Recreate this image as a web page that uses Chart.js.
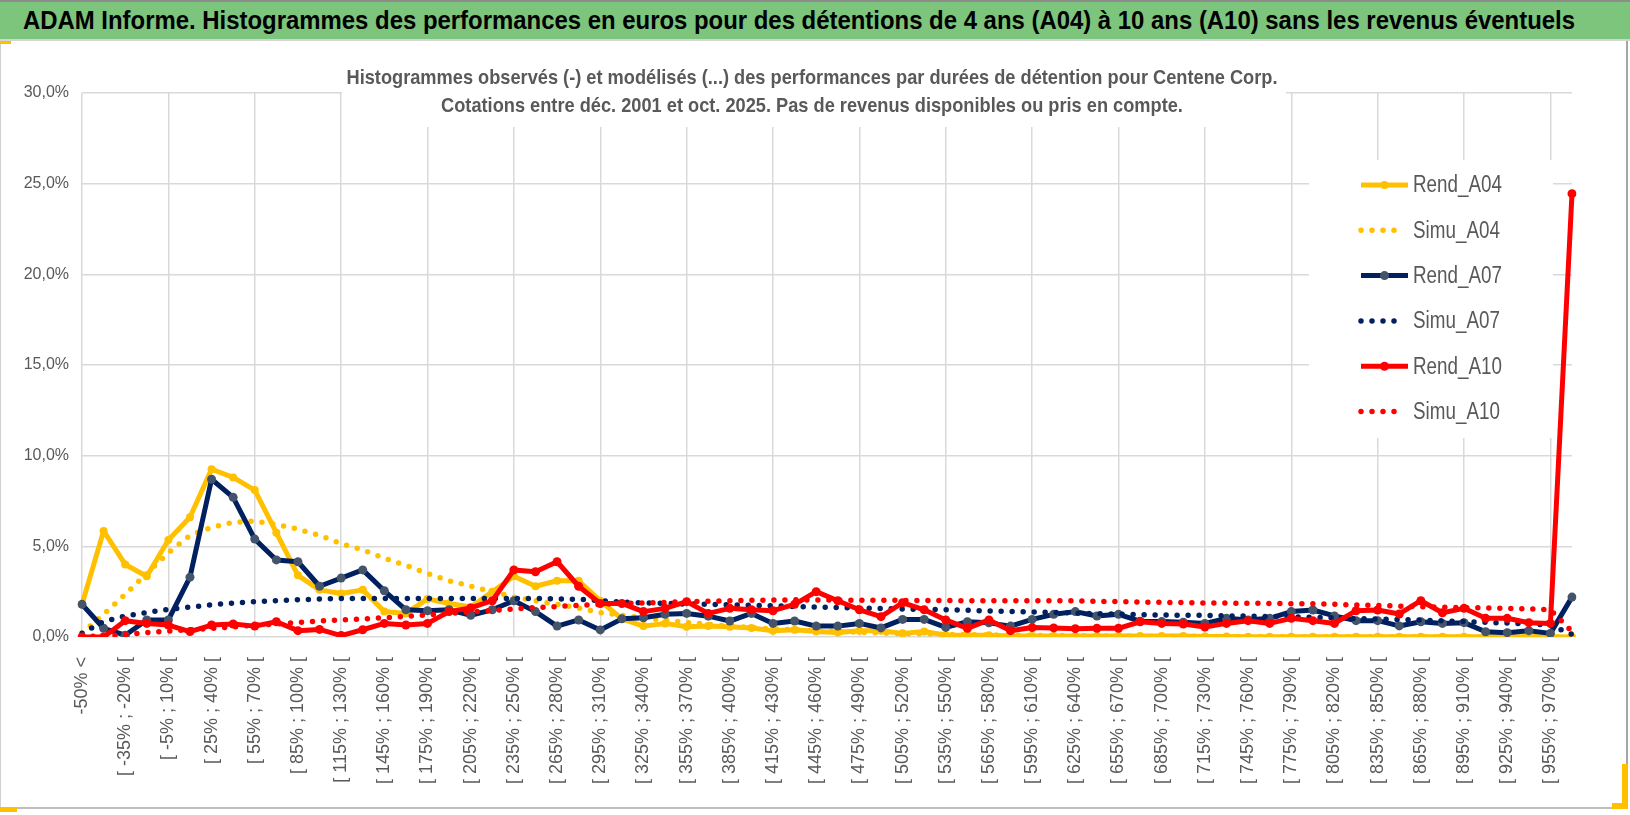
<!DOCTYPE html>
<html lang="fr">
<head>
<meta charset="utf-8">
<title>ADAM Informe - Centene Corp.</title>
<script src="https://cdn.jsdelivr.net/npm/chart.js@4.4.1/dist/chart.umd.min.js"></script>
<style>
  html, body { margin: 0; padding: 0; background: #fff; }
  body { width: 1630px; height: 815px; position: relative; overflow: hidden; }
  #chart { position: absolute; left: 0; top: 0; }
  #banner { position: absolute; left: 0; top: 0; width: 1630px; height: 41px; box-sizing: border-box;
            background: #7dc57d; border-top: 2px solid #8c8c8c; border-bottom: 2px solid #d4d4d4; z-index: 2; }
  #banner span { position: absolute; left: 23px; top: 3px; white-space: nowrap; color: #000;
                 font: bold 26px "Liberation Sans", Arial, sans-serif; transform-origin: 0 50%; }
  .edge { position: absolute; z-index: 3; }
</style>
</head>
<body>
<div id="banner"><span id="bannerText">ADAM Informe. Histogrammes des performances en euros pour des détentions de 4 ans (A04) à 10 ans (A10) sans les revenus éventuels</span></div>
<div class="edge" style="left:0;top:41px;width:1px;height:767px;background:#d0d0d0"></div>
<div class="edge" style="left:1626px;top:41px;width:2px;height:768px;background:#a6a6a6"></div>
<div class="edge" style="left:0;top:807px;width:1628px;height:2px;background:#bfbfbf"></div>
<div class="edge" style="left:0;top:41px;width:11px;height:3px;background:#FFC000"></div>
<div class="edge" style="left:0;top:807px;width:17px;height:5px;background:#FFC000"></div>
<div class="edge" style="left:1622px;top:764px;width:6px;height:45px;background:#FFC000"></div>
<div class="edge" style="left:1612px;top:803px;width:16px;height:6px;background:#FFC000"></div>
<canvas id="chart" width="1630" height="815"></canvas>
<script>
// classes de performance (15 points)
const categories = [
  '-50% <', '[ -50% ; -35% [', '[ -35% ; -20% [', '[ -20% ; -5% [', '[ -5% ; 10% [',
  '[ 10% ; 25% [', '[ 25% ; 40% [', '[ 40% ; 55% [', '[ 55% ; 70% [', '[ 70% ; 85% [',
  '[ 85% ; 100% [', '[ 100% ; 115% [', '[ 115% ; 130% [', '[ 130% ; 145% [', '[ 145% ; 160% [',
  '[ 160% ; 175% [', '[ 175% ; 190% [', '[ 190% ; 205% [', '[ 205% ; 220% [', '[ 220% ; 235% [',
  '[ 235% ; 250% [', '[ 250% ; 265% [', '[ 265% ; 280% [', '[ 280% ; 295% [', '[ 295% ; 310% [',
  '[ 310% ; 325% [', '[ 325% ; 340% [', '[ 340% ; 355% [', '[ 355% ; 370% [', '[ 370% ; 385% [',
  '[ 385% ; 400% [', '[ 400% ; 415% [', '[ 415% ; 430% [', '[ 430% ; 445% [', '[ 445% ; 460% [',
  '[ 460% ; 475% [', '[ 475% ; 490% [', '[ 490% ; 505% [', '[ 505% ; 520% [', '[ 520% ; 535% [',
  '[ 535% ; 550% [', '[ 550% ; 565% [', '[ 565% ; 580% [', '[ 580% ; 595% [', '[ 595% ; 610% [',
  '[ 610% ; 625% [', '[ 625% ; 640% [', '[ 640% ; 655% [', '[ 655% ; 670% [', '[ 670% ; 685% [',
  '[ 685% ; 700% [', '[ 700% ; 715% [', '[ 715% ; 730% [', '[ 730% ; 745% [', '[ 745% ; 760% [',
  '[ 760% ; 775% [', '[ 775% ; 790% [', '[ 790% ; 805% [', '[ 805% ; 820% [', '[ 820% ; 835% [',
  '[ 835% ; 850% [', '[ 850% ; 865% [', '[ 865% ; 880% [', '[ 880% ; 895% [', '[ 895% ; 910% [',
  '[ 910% ; 925% [', '[ 925% ; 940% [', '[ 940% ; 955% [', '[ 955% ; 970% [', '970% >='
]

// frequences en %
const rendA04 = [
  1.8, 5.85, 4.0, 3.35, 5.35, 6.6, 9.25, 8.8, 8.1, 5.75,
  3.4, 2.6, 2.4, 2.6, 1.4, 1.3, 2.1, 1.85, 1.65, 2.5,
  3.35, 2.8, 3.1, 3.1, 2.0, 1.0, 0.6, 0.75, 0.57, 0.6,
  0.57, 0.5, 0.35, 0.4, 0.3, 0.25, 0.35, 0.35, 0.2, 0.3,
  0.1, 0.1, 0.1, 0.05, 0.05, 0.05, 0.05, 0.05, 0.05, 0.05,
  0.05, 0.05, 0.03, 0.03, 0.02, 0.02, 0.02, 0.02, 0.02, 0.02,
  0.02, 0.02, 0.02, 0.02, 0.02, 0.02, 0.02, 0.02, 0.02, 0
]
const simuA04 = [
  0.2, 1.25, 2.35, 3.5, 4.65, 5.6, 6.05, 6.32, 6.4, 6.2,
  5.95, 5.6, 5.15, 4.8, 4.35, 3.95, 3.5, 3.1, 2.8, 2.5,
  2.2, 2.0, 1.8, 1.6, 1.35, 1.2, 1.05, 0.92, 0.8, 0.7,
  0.6, 0.52, 0.45, 0.39, 0.34, 0.3, 0.26, 0.22, 0.19, 0.17,
  0.15, 0.13, 0.11, 0.1, 0.09, 0.08, 0.07, 0.06, 0.05, 0.05,
  0.04, 0.04, 0.03, 0.03, 0.03, 0.02, 0.02, 0.02, 0.02, 0.02,
  0.01, 0.01, 0.01, 0.01, 0.01, 0.01, 0.01, 0.01, 0.01, 0
]
const rendA07 = [
  1.8, 0.48, 0.1, 0.94, 0.94, 3.3, 8.7, 7.7, 5.4, 4.25,
  4.15, 2.8, 3.25, 3.7, 2.55, 1.5, 1.45, 1.5, 1.2, 1.5,
  2.0, 1.4, 0.6, 0.94, 0.39, 1.0, 1.06, 1.25, 1.3, 1.15,
  0.88, 1.3, 0.75, 0.88, 0.6, 0.6, 0.75, 0.5, 0.97, 0.97,
  0.53, 0.84, 0.78, 0.6, 0.97, 1.25, 1.4, 1.16, 1.25, 0.87,
  0.85, 0.82, 0.75, 1.03, 0.94, 1.03, 1.4, 1.49, 1.16, 0.9,
  0.9, 0.61, 0.84, 0.75, 0.79, 0.29, 0.24, 0.35, 0.2, 2.2
]
const simuA07 = [
  0.2, 0.85, 1.15, 1.35, 1.52, 1.65, 1.78, 1.87, 1.95, 2.0,
  2.05, 2.1, 2.12, 2.12, 2.12, 2.12, 2.12, 2.12, 2.12, 2.12,
  2.12, 2.12, 2.1, 2.08, 2.0, 1.92, 1.88, 1.85, 1.82, 1.8,
  1.78, 1.75, 1.72, 1.68, 1.65, 1.62, 1.6, 1.57, 1.55, 1.52,
  1.5, 1.47, 1.44, 1.41, 1.38, 1.35, 1.32, 1.29, 1.26, 1.23,
  1.21, 1.2, 1.19, 1.17, 1.15, 1.13, 1.11, 1.08, 1.05, 1.02,
  0.99, 0.96, 0.93, 0.89, 0.85, 0.81, 0.77, 0.72, 0.65, 0.15
]
const rendA10 = [
  0, 0, 0.9, 0.75, 0.66, 0.3, 0.66, 0.72, 0.6, 0.84,
  0.35, 0.42, 0.08, 0.4, 0.75, 0.66, 0.75, 1.4, 1.6, 2.0,
  3.7, 3.6, 4.15, 2.8, 1.85, 1.85, 1.4, 1.58, 1.95, 1.3,
  1.58, 1.5, 1.45, 1.8, 2.5, 2.0, 1.5, 1.12, 1.89, 1.5,
  0.94, 0.48, 0.94, 0.35, 0.52, 0.5, 0.46, 0.48, 0.48, 0.84,
  0.75, 0.72, 0.55, 0.75, 0.9, 0.75, 1.03, 0.9, 0.75, 1.45,
  1.49, 1.27, 2.0, 1.34, 1.58, 1.03, 1.03, 0.79, 0.75, 24.45
]
const simuA10 = [
  0.02, 0.06, 0.14, 0.24, 0.32, 0.4, 0.48, 0.56, 0.65, 0.72,
  0.8, 0.88, 0.94, 1.0, 1.06, 1.13, 1.22, 1.3, 1.38, 1.46,
  1.54, 1.62, 1.68, 1.75, 1.8, 1.85, 1.88, 1.91, 1.94, 1.97,
  2.0, 2.02, 2.04, 2.05, 2.04, 2.03, 2.03, 2.02, 2.02, 2.01,
  2.01, 2.0, 2.0, 2.0, 2.0, 2.0, 2.0, 1.97, 1.95, 1.93,
  1.91, 1.9, 1.88, 1.87, 1.86, 1.85, 1.84, 1.83, 1.8, 1.77,
  1.74, 1.7, 1.67, 1.65, 1.62, 1.6, 1.58, 1.55, 1.5, 0.3
]

const yTicks = [0, 5, 10, 15, 20, 25, 30]

const subtitle = [
  'Histogrammes observés (-) et modélisés (...) des performances par durées de détention pour Centene Corp.',
  'Cotations entre déc. 2001 et oct. 2025. Pas de revenus disponibles ou pris en compte.'
]

const gridColor = '#d9d9d9'
const textColor = '#595959'
const sans = '"Liberation Sans", Arial, sans-serif'

const series = [
  { label: 'Rend_A04', data: rendA04, color: '#FFC000', marker: '#FFC000', dotted: false, r: 4 },
  { label: 'Simu_A04', data: simuA04, color: '#FFC000', marker: null, dotted: true, r: 0 },
  { label: 'Rend_A07', data: rendA07, color: '#002060', marker: '#44546A', dotted: false, r: 4.5 },
  { label: 'Simu_A07', data: simuA07, color: '#002060', marker: null, dotted: true, r: 0 },
  { label: 'Rend_A10', data: rendA10, color: '#FF0000', marker: '#FF0000', dotted: false, r: 4.5 },
  { label: 'Simu_A10', data: simuA10, color: '#FF0000', marker: null, dotted: true, r: 0 }
]

// no condensed font available: squeeze the banner title horizontally
const bannerText = document.getElementById('bannerText')
const bw = bannerText.getBoundingClientRect().width
bannerText.style.transform = 'scaleX(' + (1552 / bw).toFixed(4) + ')'

// draw text squeezed horizontally, like a narrow font
function narrowText(c, text, x, y, sx) {
  c.save()
  c.translate(x, y)
  c.scale(sx, 1)
  c.fillText(text, 0, 0)
  c.restore()
}

// title box and legend drawn inside the plot, over the grid
const overlay = {
  id: 'overlay',
  beforeDatasetsDraw(chart) {
    const c = chart.ctx
    c.save()
    c.fillStyle = '#fff'
    c.fillRect(342, 56, 944, 71)
    c.fillRect(1309, 160, 244, 278)

    c.fillStyle = textColor
    c.textAlign = 'center'
    c.textBaseline = 'middle'
    c.font = 'bold 21px ' + sans
    const sx = 931 / c.measureText(subtitle[0]).width
    narrowText(c, subtitle[0], 812, 78, sx)
    narrowText(c, subtitle[1], 812, 106, sx)

    c.textAlign = 'left'
    c.font = '23px ' + sans
    const lx = 89 / c.measureText('Rend_A04').width
    chart.data.datasets.forEach((ds, k) => {
      const y = 185 + k * 45.3
      c.save()
      c.strokeStyle = ds.borderColor
      c.lineWidth = ds.borderWidth
      c.lineCap = ds.borderCapStyle
      c.setLineDash(ds.borderDash)
      c.beginPath()
      c.moveTo(1361, y)
      c.lineTo(ds.borderDash.length ? 1403 : 1408, y)
      c.stroke()
      if (ds.pointRadius > 0) {
        c.fillStyle = ds.pointBackgroundColor
        c.beginPath()
        c.arc(1384.5, y, ds.pointRadius, 0, Math.PI * 2)
        c.fill()
      }
      c.restore()
      narrowText(c, ds.label, 1413, y + 1, lx)
    })
    c.restore()
  }
}

new Chart(document.getElementById('chart'), {
  type: 'line',
  data: {
    labels: categories,
    datasets: series.map((s, i) => ({
      label: s.label,
      data: s.data,
      borderColor: s.color,
      backgroundColor: s.color,
      borderWidth: s.dotted ? 5.5 : 5,
      borderDash: s.dotted ? [0, 11] : [],
      borderCapStyle: s.dotted ? 'round' : 'butt',
      borderJoinStyle: 'round',
      pointRadius: s.r,
      pointBackgroundColor: s.marker || s.color,
      pointBorderColor: s.marker || s.color,
      pointBorderWidth: 0,
      tension: 0,
      fill: false,
      order: series.length - i
    }))
  },
  options: {
    responsive: false,
    animation: false,
    devicePixelRatio: 1,
    layout: { padding: { top: 93, right: 58, left: 0, bottom: 0 } },
    plugins: {
      legend: { display: false },
      title: { display: false },
      tooltip: { enabled: false }
    },
    scales: {
      x: {
        offset: false,
        grid: {
          color: c => c.index % 4 === 0 ? gridColor : 'rgba(0,0,0,0)',
          lineWidth: 1.5,
          drawTicks: false
        },
        border: { display: false },
        ticks: {
          autoSkip: false,
          maxRotation: 90,
          minRotation: 90,
          padding: 20,
          color: textColor,
          font: { family: sans, size: 18 },
          callback: (v, i) => i % 2 === 0 ? categories[i] : ''
        },
        afterFit: s => { s.height = 178 }
      },
      y: {
        min: yTicks[0],
        max: yTicks[yTicks.length - 1],
        afterBuildTicks: s => { s.ticks = yTicks.map(v => ({ value: v })) },
        grid: { color: gridColor, lineWidth: 1.5, drawTicks: false },
        border: { display: false },
        ticks: {
          padding: 13,
          color: textColor,
          font: { family: sans, size: 16 },
          callback: v => v.toFixed(1).replace('.', ',') + '%'
        },
        afterFit: s => { s.width = 82 }
      }
    }
  },
  plugins: [overlay]
})
</script>
</body>
</html>
